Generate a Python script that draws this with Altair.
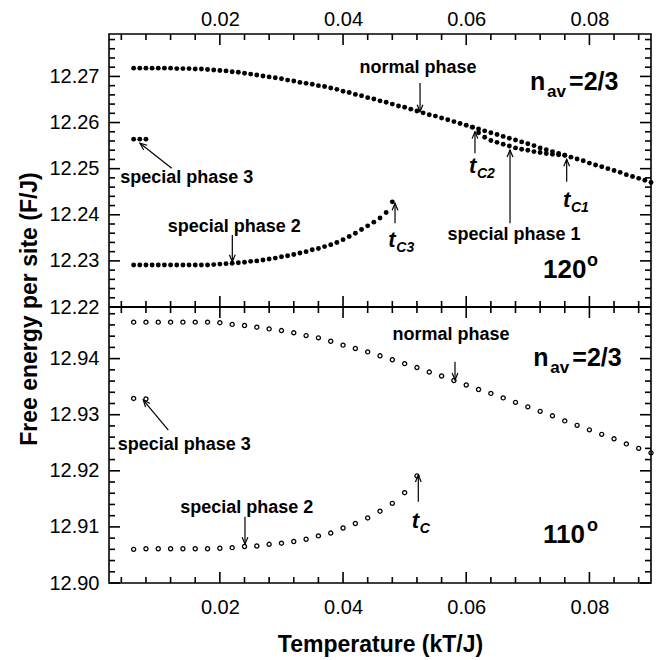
import altair as alt
import pandas as pd

FONT = "Liberation Sans"

T_120_NORMAL = [0.006, 0.007, 0.008, 0.009, 0.010, 0.011, 0.012, 0.013, 0.014, 0.015,
                0.016, 0.017, 0.018, 0.019, 0.020, 0.021, 0.022, 0.023, 0.024, 0.025,
                0.026, 0.027, 0.028, 0.029, 0.030, 0.031, 0.032, 0.033, 0.034, 0.035,
                0.036, 0.037, 0.038, 0.039, 0.040, 0.041, 0.042, 0.043, 0.044, 0.045,
                0.046, 0.047, 0.048, 0.049, 0.050, 0.051, 0.052, 0.053, 0.054, 0.055,
                0.056, 0.057, 0.058, 0.059, 0.060, 0.061, 0.062, 0.063, 0.064, 0.065,
                0.066, 0.067, 0.068, 0.069, 0.070, 0.071, 0.072, 0.073, 0.074, 0.075,
                0.076, 0.077, 0.078, 0.079, 0.080, 0.081, 0.082, 0.083, 0.084, 0.085,
                0.086, 0.087, 0.088, 0.089, 0.090]
F_120_NORMAL = [12.2718, 12.2718, 12.2718, 12.2718, 12.2718, 12.2718, 12.2718, 12.2717, 12.2717, 12.2717,
                12.2716, 12.2716, 12.2715, 12.2714, 12.2713, 12.2712, 12.2710, 12.2709, 12.2707, 12.2705,
                12.2703, 12.2701, 12.2699, 12.2697, 12.2695, 12.2692, 12.2690, 12.2687, 12.2685, 12.2683,
                12.2680, 12.2678, 12.2675, 12.2672, 12.2668, 12.2665, 12.2661, 12.2658, 12.2654, 12.2651,
                12.2647, 12.2644, 12.2640, 12.2636, 12.2633, 12.2629, 12.2625, 12.2621, 12.2617, 12.2614,
                12.2610, 12.2606, 12.2602, 12.2598, 12.2594, 12.2590, 12.2586, 12.2582, 12.2578, 12.2574,
                12.2570, 12.2566, 12.2562, 12.2558, 12.2554, 12.2550, 12.2545, 12.2541, 12.2537, 12.2533,
                12.2529, 12.2525, 12.2521, 12.2517, 12.2512, 12.2508, 12.2504, 12.2500, 12.2496, 12.2492,
                12.2487, 12.2483, 12.2479, 12.2475, 12.2470]

T_120_SP1 = [0.061, 0.062, 0.063, 0.064, 0.065, 0.066, 0.067, 0.068,
             0.069, 0.070, 0.071, 0.072, 0.073, 0.074, 0.075, 0.076]
F_120_SP1 = [12.2590, 12.2578, 12.2568, 12.2561, 12.2557, 12.2553, 12.2549, 12.2545,
             12.2542, 12.2540, 12.2537, 12.2535, 12.2533, 12.2531, 12.2530, 12.2529]

T_120_SP2 = [0.006, 0.007, 0.008, 0.009, 0.010, 0.011, 0.012, 0.013, 0.014, 0.015,
             0.016, 0.017, 0.018, 0.019, 0.020, 0.021, 0.022, 0.023, 0.024, 0.025,
             0.026, 0.027, 0.028, 0.029, 0.030, 0.031, 0.032, 0.033, 0.034, 0.035,
             0.036, 0.037, 0.038, 0.039, 0.040, 0.041, 0.042, 0.043, 0.044, 0.045,
             0.046, 0.047, 0.048]
F_120_SP2 = [12.2291, 12.2291, 12.2291, 12.2291, 12.2291, 12.2291, 12.2291, 12.2291, 12.2291, 12.2291,
             12.2291, 12.2291, 12.2291, 12.2292, 12.2293, 12.2294, 12.2295, 12.2296, 12.2297, 12.2299,
             12.2300, 12.2302, 12.2304, 12.2306, 12.2309, 12.2311, 12.2314, 12.2317, 12.2320, 12.2324,
             12.2327, 12.2331, 12.2335, 12.2340, 12.2346, 12.2353, 12.2360, 12.2368, 12.2376, 12.2384,
             12.2393, 12.2405, 12.2428]

T_120_SP3 = [0.006, 0.007, 0.008]
F_120_SP3 = [12.2564, 12.2564, 12.2564]

T_110_NORMAL = [0.006, 0.008, 0.010, 0.012, 0.014, 0.016, 0.018, 0.020, 0.022, 0.024,
                0.026, 0.028, 0.030, 0.032, 0.034, 0.036, 0.038, 0.040, 0.042, 0.044,
                0.046, 0.048, 0.050, 0.052, 0.054, 0.056, 0.058, 0.060, 0.062, 0.064,
                0.066, 0.068, 0.070, 0.072, 0.074, 0.076, 0.078, 0.080, 0.082, 0.084,
                0.086, 0.088, 0.090]
F_110_NORMAL = [12.9465, 12.9465, 12.9465, 12.9465, 12.9465, 12.9465, 12.9465, 12.9464, 12.9461, 12.9459,
                12.9456, 12.9453, 12.9450, 12.9446, 12.9441, 12.9437, 12.9431, 12.9424, 12.9418, 12.9412,
                12.9405, 12.9398, 12.9391, 12.9384, 12.9376, 12.9369, 12.9361, 12.9353, 12.9345, 12.9338,
                12.9330, 12.9322, 12.9314, 12.9306, 12.9298, 12.9289, 12.9281, 12.9273, 12.9265, 12.9257,
                12.9248, 12.9240, 12.9232]

T_110_SP2 = [0.006, 0.008, 0.010, 0.012, 0.014, 0.016, 0.018, 0.020, 0.022, 0.024,
             0.026, 0.028, 0.030, 0.032, 0.034, 0.036, 0.038, 0.040, 0.042, 0.044,
             0.046, 0.048, 0.050, 0.052]
F_110_SP2 = [12.9060, 12.9061, 12.9061, 12.9061, 12.9061, 12.9061, 12.9061, 12.9062, 12.9063, 12.9065,
             12.9066, 12.9069, 12.9071, 12.9074, 12.9078, 12.9084, 12.9089, 12.9098, 12.9106, 12.9116,
             12.9128, 12.9142, 12.9161, 12.9191]

T_110_SP3 = [0.006, 0.008]
F_110_SP3 = [12.9329, 12.9328]

X_DOMAIN = [0.002, 0.09]
Y120_DOMAIN = [12.22, 12.2792]
Y110_DOMAIN = [12.90, 12.9492]
X_MAJ = [0.02, 0.04, 0.06, 0.08]
X_MIN = [0.004, 0.008, 0.012, 0.016, 0.024, 0.028, 0.032, 0.036, 0.044,
         0.048, 0.052, 0.056, 0.064, 0.068, 0.072, 0.076, 0.084, 0.088]
Y120_MAJ = [12.22, 12.23, 12.24, 12.25, 12.26, 12.27]
Y120_MIN = [12.222, 12.224, 12.226, 12.228, 12.232, 12.234, 12.236, 12.238,
            12.242, 12.244, 12.246, 12.248, 12.252, 12.254, 12.256, 12.258,
            12.262, 12.264, 12.266, 12.268, 12.272, 12.274, 12.276, 12.278]
Y110_MAJ = [12.90, 12.91, 12.92, 12.93, 12.94]
Y110_MIN = [12.902, 12.904, 12.906, 12.908, 12.912, 12.914, 12.916, 12.918,
            12.922, 12.924, 12.926, 12.928, 12.932, 12.934, 12.936, 12.938,
            12.942, 12.944, 12.946, 12.948]

LABELS_120 = ["normal phase", "special phase 1", "special phase 2", "special phase 3"]
LABELS_120_T = [0.05217, 0.06776, 0.02233, 0.01462]
LABELS_120_F = [12.27183, 12.23561, 12.23741, 12.24791]
LABELS_110 = ["normal phase", "special phase 3", "special phase 2"]
LABELS_110_T = [0.05753, 0.01421, 0.02436]
LABELS_110_F = [12.94421, 12.92460, 12.91332]

ARROW_120_T0 = [0.0525, 0.06142, 0.07631, 0.06711, 0.04844, 0.02202, 0.01218]
ARROW_120_F0 = [12.26857, 12.25333, 12.24717, 12.23815, 12.23815, 12.23561, 12.25007]
ARROW_120_T1 = [0.0525, 0.06142, 0.07631, 0.06711, 0.04844, 0.02202, 0.00703]
ARROW_120_F1 = [12.26235, 12.25801, 12.25203, 12.25404, 12.24248, 12.22982, 12.25550]
ARROW_120_ANG = [180, 0, 0, 0, 0, 180, 308]
ARROW_110_T0 = [0.05818, 0.01163, 0.02408, 0.05222]
ARROW_110_F0 = [12.93945, 12.92727, 12.91182, 12.91449]
ARROW_110_T1 = [0.05818, 0.00757, 0.02408, 0.05222]
ARROW_110_F1 = [12.93619, 12.93262, 12.90695, 12.91925]
ARROW_110_ANG = [180, 320, 180, 0]

TC_120_SUB = ["C2", "C1", "C3"]
TC_120_T = [0.06045, 0.07571, 0.04735]
TC_120_F = [12.24906, 12.24175, 12.23307]
TC_110_SUB = ["C"]
TC_110_T = [0.05115]
TC_110_F = [12.90975]

NAV_T = [0.07036, 0.07089]
NAV_F = [12.26706, 12.93868]
ANGLE_TEXT = ["120", "110"]
ANGLE_T = [0.07247, 0.07247]
ANGLE_F = [12.22622, 12.90719]

W, H_TOP, H_BOT = 542, 273, 276
H = H_TOP + H_BOT
MAJ_PX, MIN_PX = 11, 6

XS = alt.Scale(domain=X_DOMAIN, nice=False, zero=False)
YS = {
    "top": alt.Scale(domain=Y120_DOMAIN, range=[H_TOP, 0], nice=False, zero=False),
    "bot": alt.Scale(domain=Y110_DOMAIN, range=[H, H_TOP], nice=False, zero=False),
}
PX_X = (X_DOMAIN[1] - X_DOMAIN[0]) / W
PX_Y = {"top": (Y120_DOMAIN[1] - Y120_DOMAIN[0]) / H_TOP,
        "bot": (Y110_DOMAIN[1] - Y110_DOMAIN[0]) / H_BOT}


def enc(panel, xf="t", yf="f"):
    return dict(x=alt.X(f"{xf}:Q", scale=XS, axis=None),
                y=alt.Y(f"{yf}:Q", scale=YS[panel], axis=None))


def tick_segments(panel):
    rows = []
    ymaj, ymin = (Y120_MAJ, Y120_MIN) if panel == "top" else (Y110_MAJ, Y110_MIN)
    ydom = Y120_DOMAIN if panel == "top" else Y110_DOMAIN
    for vals, px in [(ymaj, MAJ_PX), (ymin, MIN_PX)]:
        for v in vals:
            rows.append((X_DOMAIN[0], v, X_DOMAIN[0] + px * PX_X, v, 1.6))
            rows.append((X_DOMAIN[1] - px * PX_X, v, X_DOMAIN[1], v, 1.6))
    for vals, px in [(X_MAJ, MAJ_PX), (X_MIN, MIN_PX)]:
        for u in vals:
            rows.append((u, ydom[1], u, ydom[1] - px * PX_Y[panel], 1.6))
            rows.append((u, ydom[0], u, ydom[0] + px * PX_Y[panel], 1.6))
    return rows


layers = []


def dots(t, f, panel):
    df = pd.DataFrame({"t": t, "f": f})
    if panel == "top":
        m = alt.Chart(df).mark_circle(size=24, color="black", opacity=1)
    else:
        m = alt.Chart(df).mark_point(shape="circle", filled=False, size=17, strokeWidth=1.3,
                                     color="black", opacity=1)
    return m.encode(**enc(panel))


layers += [dots(T_120_NORMAL, F_120_NORMAL, "top"), dots(T_120_SP1, F_120_SP1, "top"),
           dots(T_120_SP2, F_120_SP2, "top"), dots(T_120_SP3, F_120_SP3, "top"),
           dots(T_110_NORMAL, F_110_NORMAL, "bot"), dots(T_110_SP2, F_110_SP2, "bot"),
           dots(T_110_SP3, F_110_SP3, "bot")]

HEAD = "M -0.42 1 L 0 0 L 0.42 1"
for panel, t0, f0, t1, f1, ang in [
        ("top", ARROW_120_T0, ARROW_120_F0, ARROW_120_T1, ARROW_120_F1, ARROW_120_ANG),
        ("bot", ARROW_110_T0, ARROW_110_F0, ARROW_110_T1, ARROW_110_F1, ARROW_110_ANG)]:
    seg = [(a, b, c, d, 1.2) for a, b, c, d in zip(t0, f0, t1, f1)] + tick_segments(panel)
    sdf = pd.DataFrame(seg, columns=["t0", "f0", "t1", "f1", "w"])
    layers.append(alt.Chart(sdf).mark_rule(color="black").encode(
        x=alt.X("t0:Q", scale=XS, axis=None), y=alt.Y("f0:Q", scale=YS[panel], axis=None),
        x2="t1:Q", y2="f1:Q", strokeWidth=alt.StrokeWidth("w:Q", scale=None)))
    hdf = pd.DataFrame({"t1": t1, "f1": f1, "ang": ang})
    layers.append(alt.Chart(hdf).mark_point(shape=HEAD, filled=False, color="black",
                                            strokeWidth=1.2, size=190, opacity=1).encode(
        **enc(panel, "t1", "f1"), angle=alt.Angle("ang:Q", scale=None)))

layers.append(alt.Chart(pd.DataFrame({"t": [X_DOMAIN[0]], "t2": [X_DOMAIN[1]], "f": [Y120_DOMAIN[0]]}))
              .mark_rule(color="black", strokeWidth=2).encode(**enc("top"), x2="t2:Q"))

for panel, txt, t, f in [("top", LABELS_120, LABELS_120_T, LABELS_120_F),
                         ("bot", LABELS_110, LABELS_110_T, LABELS_110_F)]:
    ldf = pd.DataFrame({"t": t, "f": f, "text": txt})
    layers.append(alt.Chart(ldf).mark_text(font=FONT, fontSize=18, fontWeight="bold", color="black",
                                           align="center", baseline="middle").encode(
        **enc(panel), text="text:N"))

for panel, subs, t, f in [("top", TC_120_SUB, TC_120_T, TC_120_F),
                          ("bot", TC_110_SUB, TC_110_T, TC_110_F)]:
    tdf = pd.DataFrame({"t": t, "f": f, "main": ["t"] * len(t), "sub": subs})
    layers.append(alt.Chart(tdf).mark_text(font=FONT, fontSize=22, fontWeight="bold", fontStyle="italic",
                                           color="black", align="left", baseline="alphabetic").encode(
        **enc(panel), text="main:N"))
    layers.append(alt.Chart(tdf).mark_text(font=FONT, fontSize=14, fontWeight="bold", fontStyle="italic",
                                           color="black", align="left", baseline="alphabetic",
                                           dx=8, dy=5).encode(**enc(panel), text="sub:N"))

for i, panel in enumerate(["top", "bot"]):
    ndf = pd.DataFrame({"t": [NAV_T[i]], "f": [NAV_F[i]], "a": ["n"], "b": ["av"], "c": ["=2/3"]})
    for col, size, dx, dy in [("a", 25, 0, 0), ("b", 17, 17, 7), ("c", 25, 39, 0)]:
        layers.append(alt.Chart(ndf).mark_text(font=FONT, fontSize=size, fontWeight="bold", color="black",
                                               align="left", baseline="alphabetic", dx=dx, dy=dy).encode(
            **enc(panel), text=f"{col}:N"))
    gdf = pd.DataFrame({"t": [ANGLE_T[i]], "f": [ANGLE_F[i]], "a": [ANGLE_TEXT[i]], "b": ["o"]})
    for col, size, dx, dy in [("a", 26, 0, 0), ("b", 18, 44, -12)]:
        layers.append(alt.Chart(gdf).mark_text(font=FONT, fontSize=size, fontWeight="bold", color="black",
                                               align="left", baseline="alphabetic", dx=dx, dy=dy).encode(
            **enc(panel), text=f"{col}:N"))

BASE_AX = dict(grid=False, domain=False, ticks=False, labelFont=FONT, labelFontSize=20,
               labelColor="black", title=None, format=".2f")


def ax(orient, values, **kw):
    d = dict(BASE_AX)
    d.update(orient=orient, values=values)
    d.update(kw)
    return alt.Axis(**d)


anchor = {"top": pd.DataFrame({"t": [0.05], "f": [12.25]}),
          "bot": pd.DataFrame({"t": [0.05], "f": [12.92]})}
axis_pairs = [
    ("top", ax("top", X_MAJ, labelPadding=5),
     ax("left", Y120_MAJ, labelPadding=10,
        title="Free energy per site (F/J)", titleFont=FONT, titleFontSize=23, titleFontWeight="bold",
        titleColor="black", titleAngle=270, titleAlign="center", titleBaseline="middle",
        titleX=-80, titleY=H / 2)),
    ("bot", ax("bottom", X_MAJ, labelPadding=14,
               title="Temperature (kT/J)", titleFont=FONT, titleFontSize=23, titleFontWeight="bold",
               titleColor="black", titleAlign="center", titleBaseline="middle",
               titleX=W / 2, titleY=61),
     ax("left", Y110_MAJ, labelPadding=10)),
]
for panel, xa, ya in axis_pairs:
    layers.append(alt.Chart(anchor[panel]).mark_point(opacity=0).encode(
        x=alt.X("t:Q", scale=XS, axis=xa), y=alt.Y("f:Q", scale=YS[panel], axis=ya)))

chart = (alt.layer(*layers)
         .resolve_scale(y="independent")
         .resolve_axis(x="independent", y="independent")
         .properties(width=W, height=H, autosize=alt.AutoSizeParams(type="none"),
                     padding={"left": 109, "top": 34, "right": 8, "bottom": 77},
                     background="white")
         .configure_view(stroke="black", strokeWidth=1.6))

chart.save("out.html", embed_options={"renderer": "svg", "actions": False})
